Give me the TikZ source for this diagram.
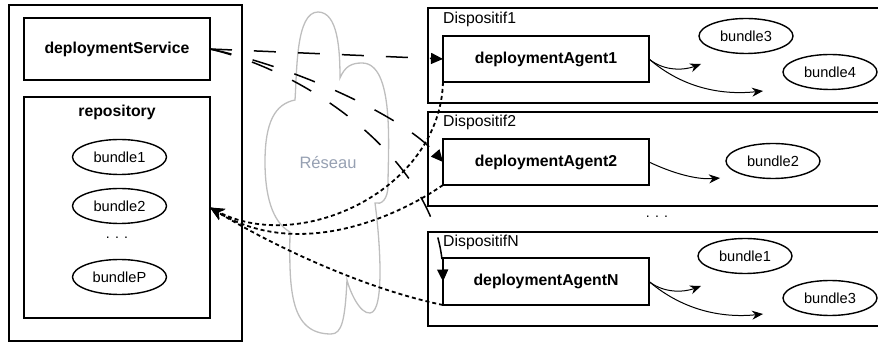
\documentclass[tikz,border=0pt]{standalone}
\usepackage{fontspec}
\setmainfont{Liberation Sans}
\usetikzlibrary{arrows.meta,shapes.geometric}
\definecolor{cloudgray}{RGB}{190,190,190}
\definecolor{netgray}{RGB}{150,160,178}
\begin{document}
\begin{tikzpicture}[x=1pt,y=-1pt,
  box/.style={draw,line width=1.5pt,inner sep=0pt,outer sep=0pt},
  comp/.style={box,font=\fontsize{15.8}{18}\selectfont\bfseries},
  bund/.style={draw,ellipse,line width=1.4pt,inner sep=0pt,minimum width=94pt,minimum height=35pt,font=\fontsize{14.6}{17}\selectfont},
  lbl/.style={inner sep=0pt,font=\fontsize{15.8}{18}\selectfont,anchor=west},
  dotsty/.style={inner sep=0pt,font=\fontsize{14}{16}\selectfont},
  longdash/.style={line width=1.5pt,dash pattern=on 22pt off 22pt,-{Triangle[length=12pt,width=11pt]}},
  dotdash/.style={line width=1.8pt,dash pattern=on 4pt off 3pt,-{Stealth[length=14pt,width=12pt]}},
  toarrow/.style={line width=1pt,-{Stealth[length=11pt,width=9pt]}}]
\useasboundingbox (0,0) rectangle (878,344);
\clip (0,0) rectangle (878,344);
% left site
\node[box,minimum width=233pt,minimum height=336pt] (site) at (125.5,173) {};
\node[comp,minimum width=186pt,minimum height=62pt] (ds) at (117,49) {deploymentService};
\node[box,minimum width=186pt,minimum height=221pt] (repo) at (117,207.5) {};
\node[inner sep=0pt,font=\fontsize{15.8}{18}\selectfont\bfseries] (repolbl) at (117,112) {repository};
\node[bund] (rb1) at (119.5,157) {bundle1};
\node[bund] (rb2) at (119.5,206) {bundle2};
\node[dotsty] (rdots) at (117,238) {. . .};
\node[bund] (rbP) at (119.5,277) {bundleP};
% cloud
\draw[cloudgray,line width=1.3pt] (295,100) .. controls (297,70) and (296,12) .. (318,12)
  .. controls (338,12) and (340,50) .. (340,78)
  .. controls (345,66) and (352,63) .. (362,63)
  .. controls (395,63) and (388,150) .. (388,185)
  .. controls (388,200) and (381,205) .. (375,203)
  .. controls (380,240) and (385,312) .. (370,313)
  .. controls (360,314) and (350,292) .. (347,280)
  .. controls (345,320) and (342,334) .. (331,334)
  .. controls (290,334) and (289,290) .. (290,232)
  .. controls (272,222) and (265,195) .. (265,162)
  .. controls (265,122) and (275,104) .. (295,100) -- cycle;
\node[inner sep=0pt,text=netgray,font=\fontsize{16.5}{19}\selectfont] (net) at (328,163) {Réseau};
% devices
\node[box,minimum width=472pt,minimum height=95pt,anchor=north west] (dev1) at (428,8) {};
\node[box,minimum width=472pt,minimum height=94pt,anchor=north west] (dev2) at (428,112) {};
\node[box,minimum width=472pt,minimum height=94pt,anchor=north west] (devN) at (428,232) {};
\node[lbl] (l1) at (443,19) {Dispositif1};
\node[lbl] (l2) at (443,122.5) {Dispositif2};
\node[lbl] (lN) at (443,242) {DispositifN};
\node[comp,minimum width=206pt,minimum height=46pt] (a1) at (546,59) {deploymentAgent1};
\node[comp,minimum width=206pt,minimum height=46pt] (a2) at (546,162) {deploymentAgent2};
\node[comp,minimum width=206pt,minimum height=47pt] (aN) at (546,281.5) {deploymentAgentN};
\node[bund] (b13) at (746,36) {bundle3};
\node[bund] (b14) at (830,72) {bundle4};
\node[bund] (b22) at (773,161) {bundle2};
\node[bund] (bN1) at (745,256) {bundle1};
\node[bund] (bN3) at (830,298) {bundle3};
\node[dotsty] (ddots) at (657,217) {. . .};
% bundle arrows
\coordinate (t13) at (701,64);
\coordinate (t14) at (763,91);
\coordinate (t22) at (720,178);
\coordinate (tN1) at (701,286);
\coordinate (tN3) at (763,314);
\draw[toarrow] (a1.east) .. controls (665,72) and (685,70) .. (t13);
\draw[toarrow] (a1.east) .. controls (685,90) and (725,95) .. (t14);
\draw[toarrow] (a2.east) .. controls (670,172) and (695,180) .. (t22);
\draw[toarrow] (aN.east) .. controls (665,294) and (685,292) .. (tN1);
\draw[toarrow] (aN.east) .. controls (685,312) and (725,318) .. (tN3);
% deployment connectors
\draw[longdash] (ds.east) -- (a1.west);
\draw[longdash] (ds.east) .. controls (300,68) and (405,118) .. (a2.west);
\draw[longdash] (ds.east) .. controls (320,75) and (440,170) .. (aN.west);
% fetch connectors
\draw[dotdash] (a1.south west) .. controls (440,190) and (300,255) .. (repo.east);
\draw[dotdash] (a2.south west) .. controls (400,215) and (300,262) .. (repo.east);
\draw[dotdash] (aN.south west) .. controls (370,290) and (280,250) .. (repo.east);
\end{tikzpicture}
\end{document}
